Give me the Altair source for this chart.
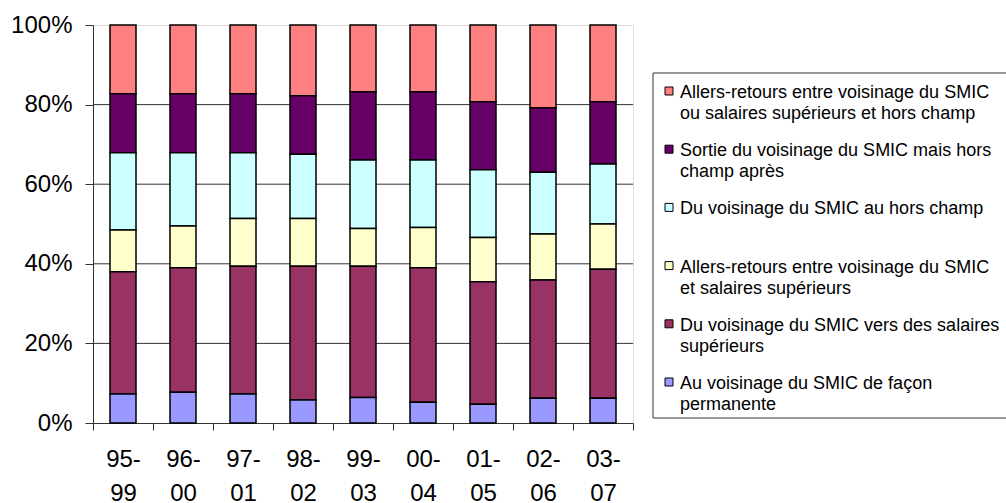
import altair as alt
import pandas as pd

# Periods on the x axis
periods = ["95-99", "96-00", "97-01", "98-02", "99-03", "00-04", "01-05", "02-06", "03-07"]

# Series labels (legend order, top to bottom)
series_labels = [
    "Allers-retours entre voisinage du SMIC\nou salaires supérieurs et hors champ",
    "Sortie du voisinage du SMIC mais hors\nchamp après",
    "Du voisinage du SMIC au hors champ",
    "Allers-retours entre voisinage du SMIC\net salaires supérieurs",
    "Du voisinage du SMIC vers des salaires\nsupérieurs",
    "Au voisinage du SMIC de façon\npermanente",
]
series_colors = ["#FF8080", "#660066", "#CCFFFF", "#FFFFCC", "#993366", "#9999FF"]

# Shares (%) per period, one list per series
allers_retours_hors_champ = [17.3, 17.3, 17.3, 17.8, 16.8, 16.8, 19.3, 20.8, 19.3]
sortie_hors_champ = [14.8, 14.8, 14.8, 14.7, 17.1, 17.1, 17.1, 16.2, 15.6]
vers_hors_champ = [19.4, 18.4, 16.5, 16.1, 17.2, 17.0, 17.0, 15.5, 15.1]
allers_retours_sup = [10.5, 10.5, 12.0, 12.0, 9.5, 10.1, 11.1, 11.6, 11.4]
vers_salaires_sup = [30.7, 31.3, 32.1, 33.6, 33.0, 33.8, 30.8, 29.7, 32.4]
permanent = [7.3, 7.7, 7.3, 5.8, 6.4, 5.2, 4.7, 6.2, 6.2]

series_values = [
    allers_retours_hors_champ,
    sortie_hors_champ,
    vers_hors_champ,
    allers_retours_sup,
    vers_salaires_sup,
    permanent,
]

y_ticks = [0, 20, 40, 60, 80, 100]
grid_values = [20, 40, 60, 80]

FONT = "Liberation Sans"
LINE = "#333333"

rows = []
n = len(series_labels)
for i, (label, vals) in enumerate(zip(series_labels, series_values)):
    for p, v in zip(periods, vals):
        rows.append({"period": p, "series": label, "value": v, "stack_rank": n - 1 - i})
df = pd.DataFrame(rows)

legend_df = pd.DataFrame({"series": series_labels, "row": list(range(n))})
grid_df = pd.DataFrame({"v": grid_values})

color_scale = alt.Scale(domain=series_labels, range=series_colors)
y_scale = alt.Scale(domain=[0, 100], nice=False)

y_axis = alt.Axis(
    title=None,
    values=y_ticks,
    labelExpr="datum.value + '%'",
    labelFontSize=24,
    labelFont=FONT,
    labelColor="black",
    labelPadding=13,
    tickSize=8,
    tickColor=LINE,
    domainColor=LINE,
    grid=False,
)

grid = alt.Chart(grid_df).mark_rule(color=LINE, strokeWidth=1).encode(
    y=alt.Y("v:Q", scale=y_scale, axis=y_axis)
)

bars = alt.Chart(df).mark_bar(size=26, stroke="black", strokeWidth=1.5).encode(
    x=alt.X(
        "period:N",
        sort=periods,
        scale=alt.Scale(paddingInner=0, paddingOuter=0),
        axis=alt.Axis(
            title=None,
            labelAngle=0,
            labelExpr="[slice(datum.label, 0, 3), slice(datum.label, 3)]",
            labelLineHeight=34,
            labelFontSize=24,
            labelFont=FONT,
            labelColor="black",
            labelPadding=17,
            tickSize=7,
            tickBand="extent",
            tickColor=LINE,
            domainColor=LINE,
        ),
    ),
    y=alt.Y("value:Q", stack="zero", scale=y_scale, axis=y_axis),
    color=alt.Color("series:N", scale=color_scale, legend=None),
    order=alt.Order("stack_rank:Q", sort="ascending"),
)

legend_y = alt.Y("row:Q", scale=alt.Scale(domain=[0, n - 1], range=[66, 357]), axis=None)

legend_frame = alt.Chart(pd.DataFrame({"box": [0]})).mark_rect(
    fillOpacity=0, stroke=LINE, strokeWidth=1
).encode(
    x=alt.value(560), x2=alt.value(925), y=alt.value(48), y2=alt.value(393)
)

legend_swatches = alt.Chart(legend_df).mark_square(
    size=64, stroke="black", strokeWidth=1, opacity=1
).encode(
    x=alt.value(576),
    y=legend_y,
    color=alt.Color("series:N", scale=color_scale, legend=None),
)

legend_text = alt.Chart(legend_df).mark_text(
    align="left", baseline="top", dy=-7, fontSize=18, lineHeight=21,
    lineBreak="\n", font=FONT, color="black"
).encode(
    x=alt.value(587),
    y=legend_y,
    text="series:N",
)

main = alt.layer(grid, bars)
legend = alt.layer(legend_frame, legend_swatches, legend_text)

chart = (
    alt.layer(main, legend)
    .resolve_scale(y="independent")
    .properties(
        width=540,
        height=398,
        autosize=alt.AutoSizeParams(type="none"),
        padding={"left": 93, "top": 25, "right": 373, "bottom": 80},
    )
    .configure_view(stroke=None)
    .configure(background="white")
)

chart.save("out.html", embed_options={"renderer": "svg", "actions": False})
